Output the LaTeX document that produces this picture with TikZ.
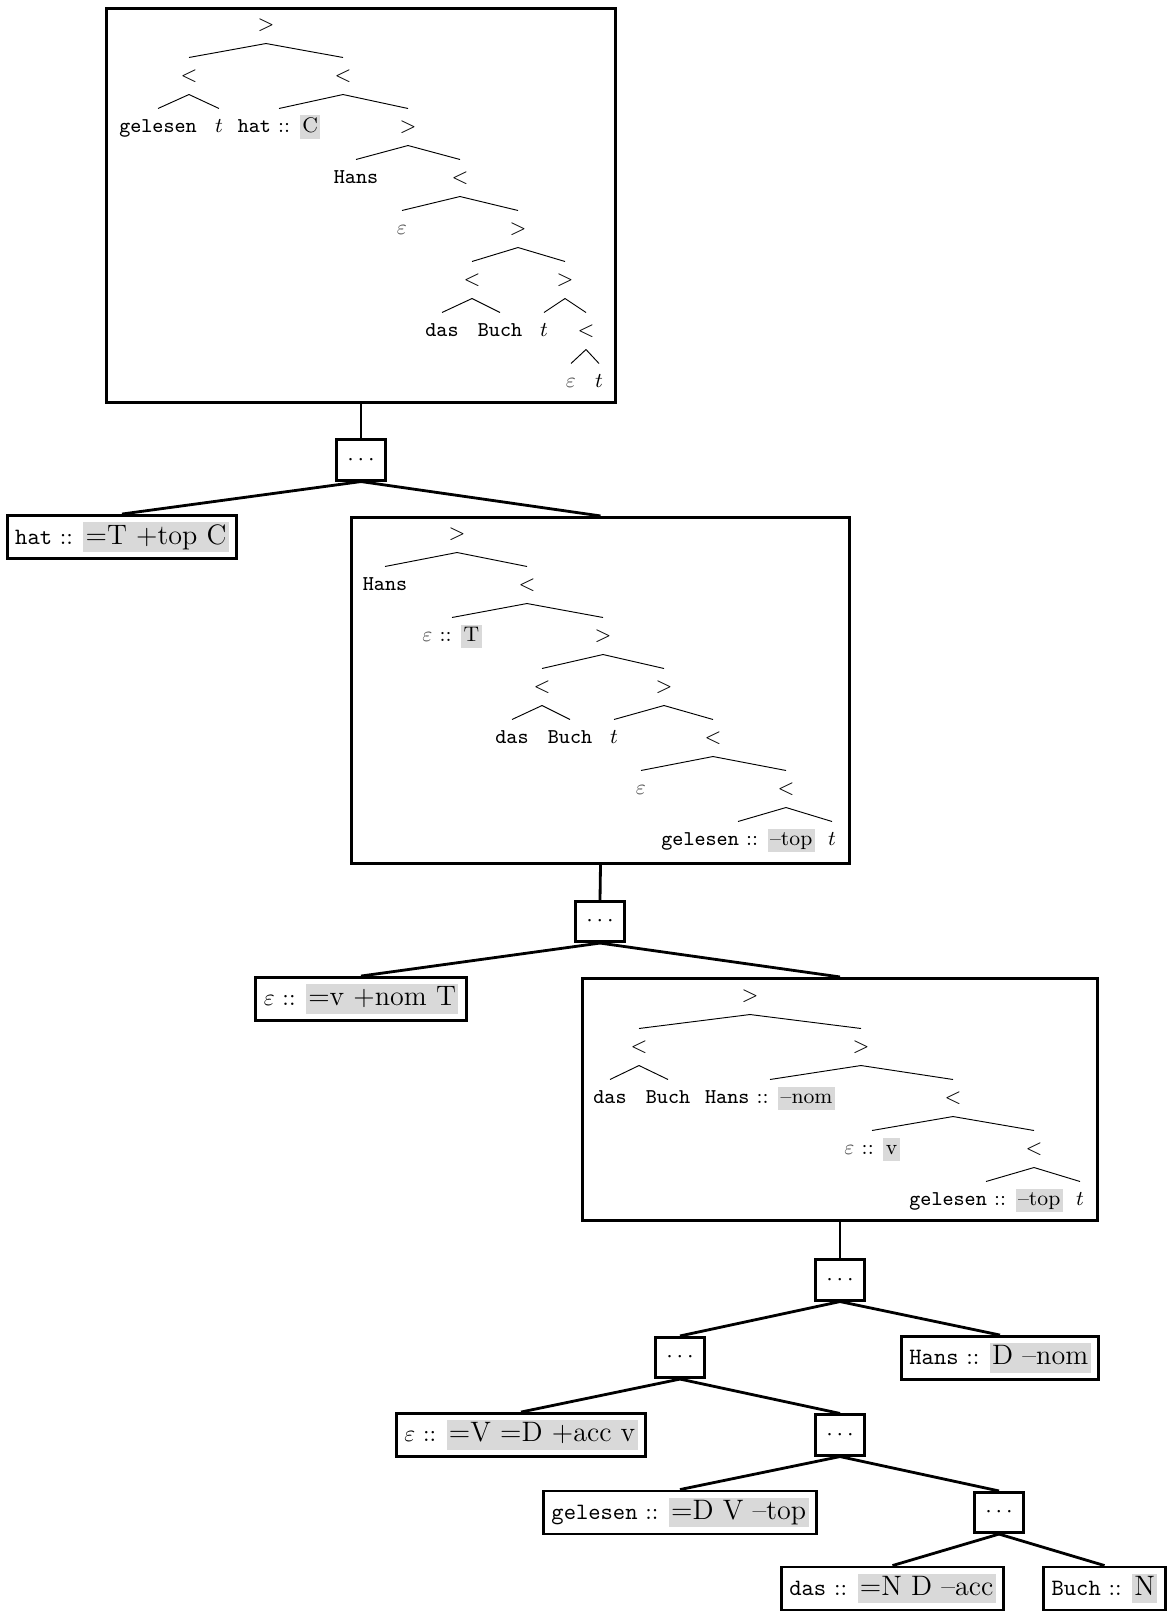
\documentclass[tikz,border=0pt]{standalone}
\definecolor{featgray}{gray}{0.85}
\definecolor{epsgray}{gray}{0.35}
\newcommand{\feat}[1]{{\setlength{\fboxsep}{1pt}\colorbox{featgray}{\vphantom{Tp}#1}}}
\newcommand{\lfeat}[1]{{\setlength{\fboxsep}{1pt}\colorbox{featgray}{\large\vphantom{Tp}#1}}}
\newcommand{\epsi}{\textcolor{epsgray}{$\varepsilon$}}

\begin{document}
\begin{tikzpicture}[
            x=0.015cm,
            y=-0.015cm,
            tn/.style={
                font=\small,
                inner sep=0pt,
                text height=6.5pt,
                text depth=2pt,
                minimum height=15.4pt
            },
            lex/.style={
                draw,
                very thick,
                inner xsep=3.4pt,
                inner ysep=0pt,
                minimum height=18.4pt
            },
            dotbox/.style={
                draw,
                very thick,
                inner sep=0pt,
                minimum width=21pt,
                minimum height=17.2pt
            },
            derivbox/.style={
                draw,
                very thick,
                inner sep=0pt
            },
            tedge/.style={thin},
            dedge/.style={very thick}
        ]
            \useasboundingbox (0,0) rectangle (1172,1612);

            % derived trees
            \node[derivbox, minimum width=217.3pt, minimum height=168.2pt] (A) at (361,205.5) {};
            \node[derivbox, minimum width=212.6pt, minimum height=147.8pt] (B) at (600.5,690.5) {};
            \node[derivbox, minimum width=219.9pt, minimum height=103.4pt] (C) at (840,1099.5) {};

            % top tree
            \node[tn] (a0) at (266,25) {$>$};
            \node[tn] (a1) at (189,76) {$<$};
            \node[tn] (a2) at (343,76) {$<$};
            \node[tn] (a3) at (158,127) {\texttt{gelesen}};
            \node[tn] (a4) at (219,127) {$t$};
            \node[tn] (a5) at (279,127) {\texttt{hat} :: \feat{C}};
            \node[tn] (a6) at (408,127) {$>$};
            \node[tn] (a7) at (356,178) {\texttt{Hans}};
            \node[tn] (a8) at (460,178) {$<$};
            \node[tn] (a9) at (402,229) {\epsi};
            \node[tn] (a10) at (518,229) {$>$};
            \node[tn] (a11) at (472,280) {$<$};
            \node[tn] (a12) at (565,280) {$>$};
            \node[tn] (a13) at (442,331) {\texttt{das}};
            \node[tn] (a14) at (500,331) {\texttt{Buch}};
            \node[tn] (a15) at (544,331) {$t$};
            \node[tn] (a16) at (586,331) {$<$};
            \node[tn] (a17) at (571,382) {\epsi};
            \node[tn] (a18) at (599,382) {$t$};

            \draw[tedge] (a0.south)--(a1.north);
            \draw[tedge] (a0.south)--(a2.north);
            \draw[tedge] (a1.south)--(a3.north);
            \draw[tedge] (a1.south)--(a4.north);
            \draw[tedge] (a2.south)--(a5.north);
            \draw[tedge] (a2.south)--(a6.north);
            \draw[tedge] (a6.south)--(a7.north);
            \draw[tedge] (a6.south)--(a8.north);
            \draw[tedge] (a8.south)--(a9.north);
            \draw[tedge] (a8.south)--(a10.north);
            \draw[tedge] (a10.south)--(a11.north);
            \draw[tedge] (a10.south)--(a12.north);
            \draw[tedge] (a11.south)--(a13.north);
            \draw[tedge] (a11.south)--(a14.north);
            \draw[tedge] (a12.south)--(a15.north);
            \draw[tedge] (a12.south)--(a16.north);
            \draw[tedge] (a16.south)--(a17.north);
            \draw[tedge] (a16.south)--(a18.north);

            % middle tree
            \node[tn] (b0) at (457,534) {$>$};
            \node[tn] (b1) at (385,585) {\texttt{Hans}};
            \node[tn] (b2) at (527,585) {$<$};
            \node[tn] (b3) at (452,636) {\epsi{} :: \feat{T}};
            \node[tn] (b4) at (603,636) {$>$};
            \node[tn] (b5) at (542,687) {$<$};
            \node[tn] (b6) at (664,687) {$>$};
            \node[tn] (b7) at (512,738) {\texttt{das}};
            \node[tn] (b8) at (570,738) {\texttt{Buch}};
            \node[tn] (b9) at (614,738) {$t$};
            \node[tn] (b10) at (713,738) {$<$};
            \node[tn] (b11) at (641,789) {\epsi};
            \node[tn] (b12) at (786,789) {$<$};
            \node[tn] (b13) at (738,840) {\texttt{gelesen} :: \feat{--top}};
            \node[tn] (b14) at (832,840) {$t$};

            \draw[tedge] (b0.south)--(b1.north);
            \draw[tedge] (b0.south)--(b2.north);
            \draw[tedge] (b2.south)--(b3.north);
            \draw[tedge] (b2.south)--(b4.north);
            \draw[tedge] (b4.south)--(b5.north);
            \draw[tedge] (b4.south)--(b6.north);
            \draw[tedge] (b5.south)--(b7.north);
            \draw[tedge] (b5.south)--(b8.north);
            \draw[tedge] (b6.south)--(b9.north);
            \draw[tedge] (b6.south)--(b10.north);
            \draw[tedge] (b10.south)--(b11.north);
            \draw[tedge] (b10.south)--(b12.north);
            \draw[tedge] (b12.south)--(b13.north);
            \draw[tedge] (b12.south)--(b14.north);

            % lower tree
            \node[tn] (c0) at (750,996) {$>$};
            \node[tn] (c1) at (639,1047) {$<$};
            \node[tn] (c2) at (861,1047) {$>$};
            \node[tn] (c3) at (610,1098) {\texttt{das}};
            \node[tn] (c4) at (668,1098) {\texttt{Buch}};
            \node[tn] (c5) at (770,1098) {\texttt{Hans} :: \feat{--nom}};
            \node[tn] (c6) at (953,1098) {$<$};
            \node[tn] (c7) at (872,1149) {\epsi{} :: \feat{v}};
            \node[tn] (c8) at (1034,1149) {$<$};
            \node[tn] (c9) at (986,1200) {\texttt{gelesen} :: \feat{--top}};
            \node[tn] (c10) at (1080,1200) {$t$};

            \draw[tedge] (c0.south)--(c1.north);
            \draw[tedge] (c0.south)--(c2.north);
            \draw[tedge] (c1.south)--(c3.north);
            \draw[tedge] (c1.south)--(c4.north);
            \draw[tedge] (c2.south)--(c5.north);
            \draw[tedge] (c2.south)--(c6.north);
            \draw[tedge] (c6.south)--(c7.north);
            \draw[tedge] (c6.south)--(c8.north);
            \draw[tedge] (c8.south)--(c9.north);
            \draw[tedge] (c8.south)--(c10.north);

            % derivation
            \node[dotbox] (e1) at (361,460) {$\cdots$};
            \node[lex] (hat) at (122,537) {\texttt{hat} :: \lfeat{=T +top C}};
            \node[dotbox] (e2) at (600,921.5) {$\cdots$};
            \node[lex] (eps1) at (361,999) {$\varepsilon$ :: \lfeat{=v +nom T}};
            \node[dotbox] (e3) at (840,1280) {$\cdots$};
            \node[dotbox] (e4) at (680,1357.5) {$\cdots$};
            \node[lex] (hans) at (1000,1358) {\texttt{Hans} :: \lfeat{D --nom}};
            \node[lex] (eps2) at (521,1435) {$\varepsilon$ :: \lfeat{=V =D +acc v}};
            \node[dotbox] (e5) at (840,1435) {$\cdots$};
            \node[lex] (gel) at (680,1512.5) {\texttt{gelesen} :: \lfeat{=D V --top}};
            \node[dotbox] (e6) at (999,1512.5) {$\cdots$};
            \node[lex] (das) at (892.5,1588.5) {\texttt{das} :: \lfeat{=N D --acc}};
            \node[lex] (buch) at (1104.5,1588.5) {\texttt{Buch} :: \lfeat{N}};

            \draw[dedge] (A.south)--(e1.north);
            \draw[dedge] (e1.south)--(hat.north);
            \draw[dedge] (e1.south)--(B.north);
            \draw[dedge] (B.south)--(e2.north);
            \draw[dedge] (e2.south)--(eps1.north);
            \draw[dedge] (e2.south)--(C.north);
            \draw[dedge] (C.south)--(e3.north);
            \draw[dedge] (e3.south)--(e4.north);
            \draw[dedge] (e3.south)--(hans.north);
            \draw[dedge] (e4.south)--(eps2.north);
            \draw[dedge] (e4.south)--(e5.north);
            \draw[dedge] (e5.south)--(gel.north);
            \draw[dedge] (e5.south)--(e6.north);
            \draw[dedge] (e6.south)--(das.north);
            \draw[dedge] (e6.south)--(buch.north);
        \end{tikzpicture}
\end{document}
